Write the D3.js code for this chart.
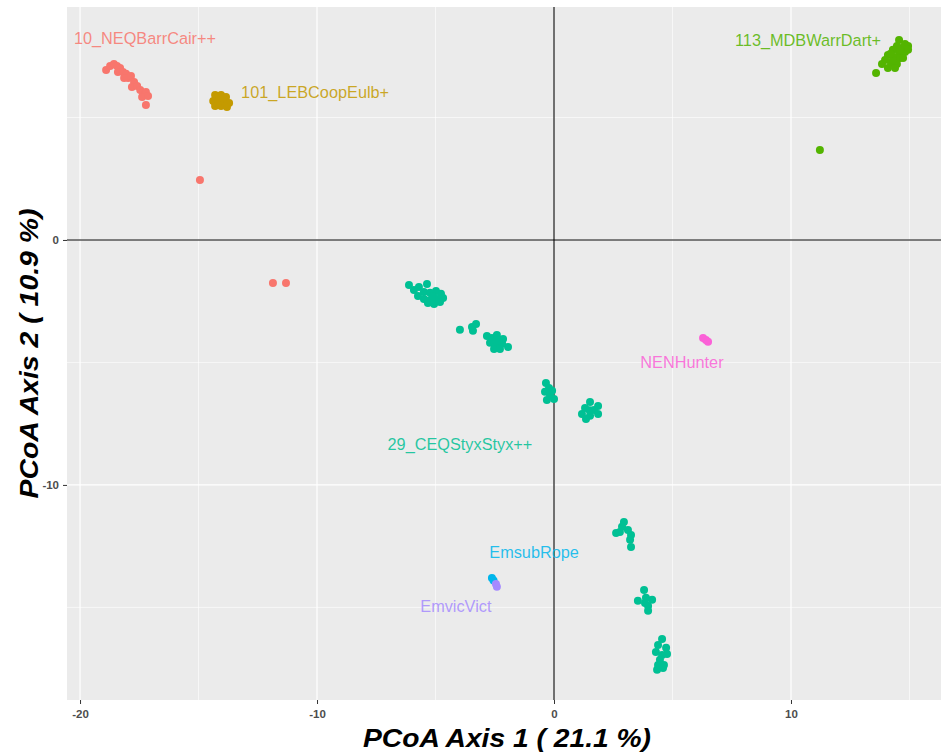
<!DOCTYPE html>
<html>
<head>
<meta charset="utf-8">
<script src="https://cdn.jsdelivr.net/npm/d3@7"></script>
<style>
  body { margin: 0; background: #fff; }
  svg { display: block; font-family: "Liberation Sans", Arial, sans-serif; }
</style>
</head>
<body>
<div id="chart"></div>
<script>
// groups, in ggplot hue order
const groups = ["10_NEQBarrCair++", "101_LEBCoopEulb+", "113_MDBWarrDart+",
                "29_CEQStyxStyx++", "EmsubRope", "EmvicVict", "NENHunter"];
const colors = ["#F8766D", "#C49A00", "#53B400", "#00C094", "#00B6EB", "#A58AFF", "#FB61D7"];

// PCoA scores: [axis1, axis2]
const ptsNEQ = [[-18.90,6.94],[-18.73,7.10],[-18.57,7.18],[-18.44,7.10],[-18.31,7.02],[-18.40,6.86],
  [-18.19,6.86],[-18.06,6.78],[-17.97,6.61],[-18.14,6.61],[-17.85,6.69],[-17.72,6.45],[-17.81,6.24],
  [-17.59,6.29],[-17.46,6.12],[-17.34,6.00],[-17.22,6.04],[-17.38,5.84],[-17.13,5.88],[-17.22,5.51],
  [-14.94,2.45],[-11.86,-1.76],[-11.31,-1.76]];
const ptsLEB = [[-14.30,5.92],[-14.05,5.92],[-13.84,5.84],[-14.38,5.67],[-14.14,5.71],[-13.88,5.63],
  [-13.71,5.59],[-14.30,5.47],[-14.05,5.47],[-13.80,5.43],[-14.18,5.59],[-13.97,5.80]];
const ptsMDB = [[14.56,8.16],[14.81,8.00],[14.94,7.92],[14.47,7.92],[14.68,7.84],[14.30,7.76],
  [14.56,7.67],[14.81,7.67],[14.09,7.55],[14.35,7.47],[14.60,7.43],[13.97,7.35],[14.22,7.22],
  [14.47,7.18],[13.84,7.18],[14.09,7.02],[14.39,7.02],[13.59,6.82],[14.73,7.43],[14.94,7.76],
  [14.30,7.35],[14.60,7.76],[14.20,7.60],
  [11.22,3.67]];
const ptsCEQ = [
  [-6.12,-1.84],[-5.91,-2.04],[-5.70,-1.92],[-5.36,-1.80],[-5.49,-2.12],[-5.23,-2.16],[-4.98,-2.08],
  [-4.77,-2.20],[-5.74,-2.29],[-5.49,-2.41],[-5.23,-2.45],[-4.94,-2.41],[-4.68,-2.37],[-5.32,-2.57],
  [-5.06,-2.61],[-4.81,-2.53],[-5.10,-2.30],
  [-3.97,-3.67],[-3.46,-3.55],[-3.29,-3.43],[-3.42,-3.71],
  [-2.83,-3.92],[-2.62,-4.00],[-2.41,-3.88],[-2.15,-4.04],[-2.70,-4.20],[-2.45,-4.29],[-2.19,-4.24],
  [-1.94,-4.37],[-2.53,-4.45],[-2.28,-4.45],[-2.40,-4.10],
  [-0.34,-5.84],[-0.21,-6.04],[-0.38,-6.20],[-0.17,-6.33],[-0.30,-6.53],[0.00,-6.49],[-0.08,-6.16],
  [1.52,-6.61],[1.31,-6.86],[1.69,-6.94],[1.86,-6.78],[1.18,-7.10],[1.52,-7.18],[1.86,-7.10],[1.35,-7.31],
  [1.50,-6.95],
  [2.62,-11.96],[2.87,-11.71],[2.95,-11.51],[3.12,-11.84],[3.25,-12.04],[3.21,-12.24],[3.25,-12.53],[2.78,-11.92],
  [3.80,-14.29],[3.54,-14.73],[3.88,-14.61],[4.14,-14.69],[3.97,-14.94],[3.97,-15.14],[3.84,-14.82],
  [4.56,-16.29],[4.39,-16.53],[4.73,-16.65],[4.30,-16.82],[4.56,-16.94],[4.47,-17.14],[4.39,-17.35],
  [4.64,-17.35],[4.35,-17.55],[4.60,-17.47],[4.77,-16.90]];
const ptsEmsub = [[-2.62,-13.80],[-2.55,-13.90]];
const ptsEmvic = [[-2.41,-14.16],[-2.45,-14.04]];
const ptsNEN = [[6.41,-4.08],[6.29,-4.00],[6.50,-4.16]];

// label positions (group labels as in the plot)
const labelPos = [[-17.26,8.24],[-10.08,6.04],[10.72,8.16],[-3.97,-8.33],[-0.84,-12.73],[-4.14,-14.94],[5.40,-4.98]];

const xTicks = [-20, -10, 0, 10];
const yTicks = [0, -10];
const xMinor = [-15, -5, 5, 15];
const yMinor = [5, -5, -15];
const xTitle = "PCoA Axis 1 ( 21.1 %)";
const yTitle = "PCoA Axis 2 ( 10.9 %)";

const W = 941, H = 753;
const margin = {top: 7, right: 0, bottom: 53, left: 67};
const width = W - margin.left - margin.right;
const height = H - margin.top - margin.bottom;

const svg = d3.select("#chart").append("svg")
  .attr("width", W).attr("height", H);
const g = svg.append("g")
  .attr("transform", "translate(" + margin.left + "," + margin.top + ")");

const x = d3.scaleLinear().domain([-20.55, 16.33]).range([0, width]);
const y = d3.scaleLinear().domain([-18.78, 9.51]).range([height, 0]);

// panel background + grid
g.append("rect").attr("width", width).attr("height", height).attr("fill", "#EBEBEB");
g.selectAll(".xminor").data(xMinor).enter().append("line")
  .attr("x1", d => x(d)).attr("x2", d => x(d)).attr("y1", 0).attr("y2", height)
  .attr("stroke", "#fff").attr("stroke-width", 0.6);
g.selectAll(".yminor").data(yMinor).enter().append("line")
  .attr("y1", d => y(d)).attr("y2", d => y(d)).attr("x1", 0).attr("x2", width)
  .attr("stroke", "#fff").attr("stroke-width", 0.6);
g.selectAll(".xmajor").data(xTicks).enter().append("line")
  .attr("x1", d => x(d)).attr("x2", d => x(d)).attr("y1", 0).attr("y2", height)
  .attr("stroke", "#fff").attr("stroke-width", 1.2);
g.selectAll(".ymajor").data(yTicks).enter().append("line")
  .attr("y1", d => y(d)).attr("y2", d => y(d)).attr("x1", 0).attr("x2", width)
  .attr("stroke", "#fff").attr("stroke-width", 1.2);

// zero lines
g.append("line").attr("x1", x(0)).attr("x2", x(0)).attr("y1", 0).attr("y2", height)
  .attr("stroke", "#000").attr("stroke-width", 1.1);
g.append("line").attr("y1", y(0)).attr("y2", y(0)).attr("x1", 0).attr("x2", width)
  .attr("stroke", "#000").attr("stroke-width", 1.1);

// axes
const xAxis = g.append("g").attr("transform", "translate(0," + height + ")")
  .call(d3.axisBottom(x).tickValues(xTicks).tickSize(4).tickPadding(6).tickFormat(d3.format("d")));
const yAxis = g.append("g")
  .call(d3.axisLeft(y).tickValues(yTicks).tickSize(4).tickPadding(4).tickFormat(d3.format("d")));
[xAxis, yAxis].forEach(a => {
  a.select(".domain").remove();
  a.selectAll(".tick line").attr("stroke", "#333").attr("stroke-width", 1);
  a.selectAll(".tick text").attr("fill", "#4D4D4D").style("font-size", "11.5px")
    .style("font-weight", "bold").style("font-family", "'Liberation Sans Narrow', 'Liberation Sans', Arial, sans-serif");
});
// d3 uses a unicode minus; ggplot uses a hyphen
xAxis.selectAll(".tick text").text(d => String(d));
yAxis.selectAll(".tick text").text(d => String(d));

// points
const allPts = [ptsNEQ, ptsLEB, ptsMDB, ptsCEQ, ptsEmsub, ptsEmvic, ptsNEN];
allPts.forEach((pts, i) => {
  g.append("g").selectAll("circle").data(pts).enter().append("circle")
    .attr("cx", d => x(d[0])).attr("cy", d => y(d[1])).attr("r", 4)
    .attr("fill", colors[i]);
});

// group labels
g.selectAll(".lab").data(groups).enter().append("text")
  .attr("x", (d, i) => x(labelPos[i][0])).attr("y", (d, i) => y(labelPos[i][1]))
  .attr("dy", "0.35em").attr("text-anchor", "middle")
  .attr("fill", (d, i) => colors[i]).attr("fill-opacity", 0.85)
  .style("font-size", "16.3px")
  .text(d => d);

// axis titles, centred on the panel
svg.append("text")
  .attr("x", margin.left + width / 2 + 3).attr("y", 747)
  .attr("text-anchor", "middle")
  .attr("textLength", 288).attr("lengthAdjust", "spacingAndGlyphs")
  .style("font-size", "25.5px").style("font-weight", "bold").style("font-style", "italic")
  .text(xTitle);
svg.append("text")
  .attr("transform", "translate(38," + (margin.top + height / 2) + ") rotate(-90)")
  .attr("text-anchor", "middle")
  .attr("textLength", 290).attr("lengthAdjust", "spacingAndGlyphs")
  .style("font-size", "25.5px").style("font-weight", "bold").style("font-style", "italic")
  .text(yTitle);
</script>
</body>
</html>
